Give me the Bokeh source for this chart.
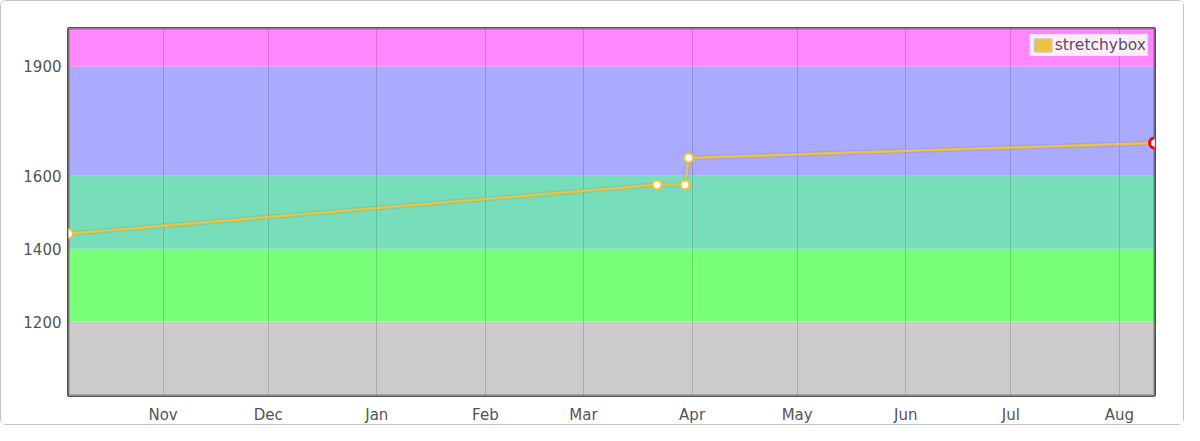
import datetime as dt
from bokeh.plotting import figure
from bokeh.models import (Range1d, BoxAnnotation, FixedTicker, MonthsTicker,
                          DatetimeTickFormatter, Legend, LegendItem, ColumnDataSource)
from bokeh.embed import file_html
from bokeh.resources import INLINE

# ---- data ----
dates = ["2014-10-05", "2015-03-22", "2015-03-30", "2015-03-31", "2015-08-11"]
ratings = [1441, 1575, 1575, 1649, 1690]
series_name = "stretchybox"

band_bottoms = [0, 1200, 1400, 1600, 1900]
band_tops = [1200, 1400, 1600, 1900, 3000]
band_colors = ["#CCCCCC", "#77FF77", "#77DDBB", "#AAAAFF", "#FF88FF"]
y_ticks = [1200, 1400, 1600, 1900]
y_min, y_max = 997, 2004

xs = [dt.datetime.strptime(d, "%Y-%m-%d") for d in dates]

FONT = "DejaVu Sans"
TEXT = "#545454"

p = figure(width=1184, height=425, x_axis_type="datetime",
           output_backend="svg", toolbar_location=None,
           x_range=Range1d(xs[0], xs[-1]), y_range=Range1d(y_min, y_max),
           min_border_left=67, min_border_right=31,
           min_border_top=27, min_border_bottom=30)
p.styles = {"border": "1px solid #c4c4c4", "border-radius": "6px",
            "box-sizing": "border-box"}
p.background_fill_color = "white"
p.border_fill_color = "white"
p.outline_line_color = "#555555"
p.outline_line_width = 3

for b, t, c in zip(band_bottoms, band_tops, band_colors):
    p.add_layout(BoxAnnotation(bottom=b, top=t, fill_color=c, fill_alpha=1.0,
                               line_alpha=0, level="image"))

# axes
p.yaxis.ticker = FixedTicker(ticks=y_ticks)
p.xaxis.ticker = MonthsTicker(months=list(range(12)))
p.xaxis.formatter = DatetimeTickFormatter(months="%b", days="%b", years="%b")
for ax in (p.xaxis[0], p.yaxis[0]):
    ax.axis_line_color = None
    ax.major_tick_line_color = None
    ax.minor_tick_line_color = None
    ax.major_tick_out = 0
    ax.major_tick_in = 0
    ax.major_label_text_font = FONT
    ax.major_label_text_font_size = "15px"
    ax.major_label_text_color = TEXT
p.yaxis.major_label_standoff = 7
p.xaxis.major_label_standoff = 10

p.ygrid.grid_line_color = None
p.xgrid.ticker = MonthsTicker(months=list(range(12)))
p.xgrid.grid_line_color = "#000000"
p.xgrid.grid_line_alpha = 0.15
p.xgrid.grid_line_width = 1

# frame border drawn above the colour bands
p.add_layout(BoxAnnotation(fill_alpha=0, line_color="#555555", line_width=3,
                           level="underlay"))

# series
src = ColumnDataSource(dict(x=xs, y=ratings))
p.line("x", "y", source=src, line_color="#000000", line_alpha=0.06, line_width=5)
p.line("x", "y", source=src, line_color="#edc240", line_width=2.5)
p.scatter("x", "y", source=src, size=9, fill_color="white",
          line_color="#edc240", line_width=2.2)
last = ColumnDataSource(dict(x=xs[-1:], y=ratings[-1:]))
p.scatter("x", "y", source=last, size=10, fill_color="white",
          line_color="#ff0000", line_width=3)

# legend swatch (hidden renderer, only used for the legend glyph)
sw = ColumnDataSource(dict(l=xs[:1], r=xs[:1], t=ratings[:1], b=ratings[:1]))
dummy = p.quad(left="l", right="r", top="t", bottom="b", source=sw,
               fill_color="#edc240", line_color="#c8c8c8", line_width=1.5)
dummy.visible = False
legend = Legend(items=[LegendItem(label=series_name, renderers=[dummy])],
                location="top_right", margin=6, padding=2, spacing=0,
                label_text_font=FONT, label_text_font_size="15.5px",
                label_text_color=TEXT, label_standoff=1,
                glyph_width=22, glyph_height=16, label_height=17,
                background_fill_color="white", background_fill_alpha=0.85,
                border_line_alpha=0, click_policy="none")
p.add_layout(legend)

open("out.html", "w").write(file_html(p, INLINE))
